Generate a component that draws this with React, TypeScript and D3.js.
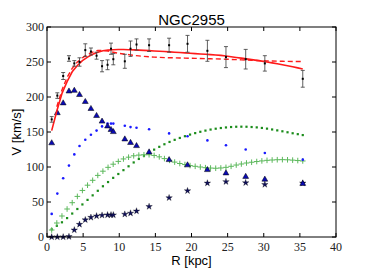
import React from 'react';
import * as d3 from 'd3';

// observed points (kpc, km/s)
const radius = [0.65, 1.43, 2.24, 3.04, 3.78, 4.5, 5.3, 6.08, 6.86, 7.62, 8.38, 8.86, 9.18, 10.77, 11.56, 12.39, 14.13, 16.9, 19.45, 22.2, 24.77, 27.5, 30.15, 35.4];
const vObs = [168, 202, 230, 255, 248, 250, 267, 265, 259, 244, 246, 269, 254, 251, 269, 275, 274, 274, 276, 266, 257, 254, 248, 226];
const vErr = [4, 4, 5, 4, 4, 6, 9, 5, 5, 8, 7, 8, 8, 10, 11, 8, 9, 10, 12, 15, 15, 14, 11, 12];
const vDisk = [135, 178, 192, 209, 210, 204, 194, 184, 174, 166, 159, 154, 151, 140.5, 135.5, 131, 122, 111, 103.5, 96.7, 92, 87, 83, 77];
const vGas = [33, 62, 84, 102, 118, 130, 139, 146, 152, 158, 162, 162, 162, 159, 157, 156, 154, 148, 144, 138, 131, 125, 120, 110.5];
const vBulge = [0, 0, 0, 0.5, 10, 18, 24.5, 28, 30, 31, 31.5, 31.5, 31.5, 32.5, 34, 37, 43.5, 56, 66, 77, 79, 77.5, 75, 77];

// model curves on a fine radial grid
const rGrid = [0.65, 1.36, 2.07, 2.78, 3.49, 4.2, 4.9, 5.61, 6.32, 7.03, 7.74, 8.45, 9.16, 9.87, 10.58, 11.29, 12.0, 12.71, 13.42, 14.13, 14.83, 15.54, 16.25, 16.96, 17.67, 18.38, 19.09, 19.8, 20.51, 21.22, 21.93, 22.64, 23.35, 24.06, 24.77, 25.48, 26.19, 26.9, 27.61, 28.32, 29.03, 29.74, 30.45, 31.16, 31.87, 32.58, 33.29, 34.0, 34.71, 35.4];
const vFit = [152, 180, 205, 222, 236, 245, 252, 257, 261, 264, 266, 267, 267.5, 267.8, 267.8, 267.6, 267.3, 267, 266.6, 266.2, 265.8, 265.4, 265, 264.5, 264, 263.5, 263, 262.5, 262, 261.5, 261, 260.5, 260, 259.5, 258.5, 257.5, 256.5, 255.5, 254.5, 253.4, 252.3, 251.2, 250, 248.7, 247.4, 246, 244.6, 243.1, 241.6, 240];
const vFitAlt = [null, 186, 210, 228, 241, 250, 256, 261, 264, 266.5, 266.5, 265.5, 264, 262.5, 261.5, 260.5, 259.5, 258.7, 258, 257.4, 257, 256.6, 256.3, 256.1, 256, 255.8, 255.6, 255.4, 255.2, 255, 254.8, 254.6, 254.4, 254.2, 254, 253.7, 253.4, 253.1, 252.8, 252.5, 252.2, 251.9, 251.6, 251.4, 251.2, 251, 250.9, 250.8, 250.7, 250.6];
const vHalo = [11, 16, 21, 27, 33.5, 40, 46.5, 53, 59.5, 66, 72.5, 78.5, 84.5, 90, 95.5, 101, 106.5, 111.5, 116, 120.5, 124.8, 128.8, 132.5, 135.8, 138.8, 141.5, 144, 146.3, 148.4, 150.3, 152, 153.5, 154.7, 155.7, 156.5, 157.1, 157.5, 157.6, 157.5, 157.1, 156.6, 155.8, 154.8, 153.6, 152.3, 151, 149.6, 148.2, 146.9, 145.6];
const vPlus = [10, 20, 30, 40, 49, 58, 66.5, 74, 81, 88, 94, 99.5, 104, 108, 111.5, 114, 116, 117, 117.5, 117.5, 116.5, 114.5, 112, 109.5, 107, 105, 103.5, 102, 101, 100, 99, 98.5, 98.2, 98.6, 99.5, 101, 102.8, 104.3, 105.7, 106.8, 107.8, 108.7, 109.5, 110, 110.4, 110.5, 110.3, 109.8, 109.2, 108.6];

const xTicks = [0, 5, 10, 15, 20, 25, 30, 35, 40];
const yTicks = [0, 50, 100, 150, 200, 250, 300];

const W = 374;
const H = 280;
const left = 47, right = 336, top = 27, bottom = 237;

export default function App() {
  const x = d3.scaleLinear().domain([0, 40]).range([left, right]);
  const y = d3.scaleLinear().domain([0, 300]).range([bottom, top]);

  const fitLine = d3.line<number>()
    .x((_, i) => x(rGrid[i]))
    .y(d => y(d));
  const altLine = d3.line<number | null>()
    .defined(d => d !== null)
    .x((_, i) => x(rGrid[i]))
    .y(d => y(d as number));

  const tri = d3.symbol().type(d3.symbolTriangle).size(15)();
  const star = d3.symbol().type(d3.symbolStar).size(13)();
  const serif = '"Liberation Serif", "DejaVu Serif", serif';
  const sans = '"Liberation Sans", Arial, sans-serif';

  return (
    <div style={{ position: 'absolute', left: 0, top: 0 }}>
      <svg width={W} height={H} style={{ display: 'block', background: '#fff' }}>
        {/* halo: green dots */}
        {vHalo.map((v, i) => (
          <rect key={'h' + i} x={x(rGrid[i]) - 1.1} y={y(v) - 1.1} width={2.2} height={2.2} fill="#1a8c1a" />
        ))}
        {/* green plus */}
        {vPlus.map((v, i) => {
          const cx = x(rGrid[i]), cy = y(v);
          return (
            <path key={'p' + i} d={`M${cx - 2.8},${cy}H${cx + 2.8}M${cx},${cy - 2.8}V${cy + 2.8}`}
              stroke="#5cb85c" strokeWidth={1} fill="none" />
          );
        })}
        {/* gas: blue dots */}
        {vGas.map((v, i) => (
          <circle key={'g' + i} cx={x(radius[i])} cy={y(v)} r={1.3} fill="#1a1aff" />
        ))}
        {/* bulge stars */}
        {vBulge.map((v, i) => (
          <path key={'s' + i} d={star as string} transform={`translate(${x(radius[i])},${y(v)})`}
            fill="#10105a" stroke="#000" strokeWidth={0.3} />
        ))}
        {/* disk triangles */}
        {vDisk.map((v, i) => (
          <path key={'t' + i} d={tri as string} transform={`translate(${x(radius[i])},${y(v) + 0.6})`}
            fill="#0a0ab4" stroke="#000" strokeWidth={0.5} />
        ))}
        {/* fits */}
        <path d={altLine(vFitAlt) as string} fill="none" stroke="#ff1a1a" strokeWidth={1.4} strokeDasharray="5,3" />
        <path d={fitLine(vFit) as string} fill="none" stroke="#ff1a1a" strokeWidth={1.6} />
        {/* observations with error bars */}
        {vObs.map((v, i) => {
          const cx = x(radius[i]);
          const y0 = y(v - vErr[i]), y1 = y(v + vErr[i]);
          return (
            <g key={'o' + i}>
              <path d={`M${cx},${y0}V${y1}M${cx - 2},${y0}H${cx + 2}M${cx - 2},${y1}H${cx + 2}`}
                stroke="#444" strokeWidth={1} fill="none" opacity={0.85} />
              <rect x={cx - 1} y={y(v) - 1} width={2} height={2} fill="#000" />
            </g>
          );
        })}
        {/* frame */}
        <rect x={left} y={top} width={right - left} height={bottom - top} fill="none" stroke="#000" strokeWidth={1} />
        {xTicks.map(t => (
          <g key={'xt' + t}>
            <line x1={x(t)} x2={x(t)} y1={bottom} y2={bottom - 4} stroke="#000" />
            <line x1={x(t)} x2={x(t)} y1={top} y2={top + 4} stroke="#000" />
            <text x={x(t)} y={250.5} textAnchor="middle" fontFamily={serif} fontSize={12} fill="#222">{t}</text>
          </g>
        ))}
        {yTicks.map(t => (
          <g key={'yt' + t}>
            <line x1={left} x2={left + 4} y1={y(t)} y2={y(t)} stroke="#000" />
            <line x1={right} x2={right - 4} y1={y(t)} y2={y(t)} stroke="#000" />
            <text x={44} y={y(t) + 4} textAnchor="end" fontFamily={serif} fontSize={12} fill="#222">{t}</text>
          </g>
        ))}
        <text x={(left + right) / 2} y={25} textAnchor="middle" fontFamily={sans} fontSize={15} fill="#000">NGC2955</text>
        <text x={(left + right) / 2} y={265} textAnchor="middle" fontFamily={sans} fontSize={13} fill="#000">R [kpc]</text>
        <text transform={`translate(21,${(top + bottom) / 2}) rotate(-90)`} textAnchor="middle" fontFamily={sans} fontSize={13} fill="#000">V [km/s]</text>
      </svg>
    </div>
  );
}
